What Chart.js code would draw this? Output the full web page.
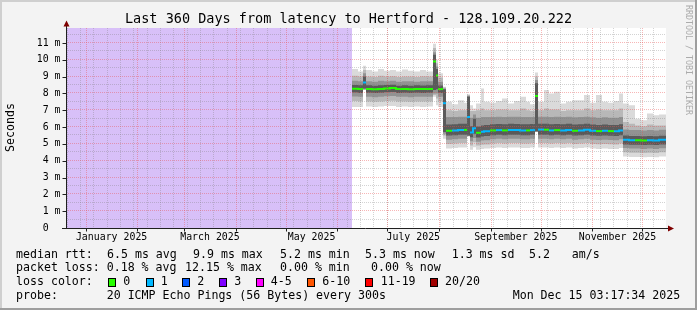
<!DOCTYPE html>
<html><head><meta charset="utf-8">
<script src="https://cdn.jsdelivr.net/npm/chart.js@4.4.1/dist/chart.umd.min.js"></script>
<style>html,body{margin:0;padding:0;background:#f3f3f3;overflow:hidden}canvas{display:block}</style>
</head><body>
<canvas id="c" width="697" height="310"></canvas>
<script>
// ---------- texts ----------
const TITLE = "Last 360 Days from latency to Hertford - 128.109.20.222";
const Y_TITLE = "Seconds";
const WATERMARK = "RRDTOOL / TOBI OETIKER";

// ---------- axes ----------
const SPAN_DAYS = 360;
const Y_MAX = 11.89;
const yTickValues = [0,1,2,3,4,5,6,7,8,9,10,11];
const yTickLabels = ["0  ","1 m","2 m","3 m","4 m","5 m","6 m","7 m","8 m","9 m","10 m","11 m"];
const yMinorValues = [0.5,1.5,2.5,3.5,4.5,5.5,6.5,7.5,8.5,9.5,10.5,11.5];
const monthStartDays = [11.86,42.86,70.86,101.86,131.86,162.86,192.86,223.86,254.86,284.86,315.86,345.86];
const monthLabelDays = [27.36,86.36,147.36,208.36,269.86,330.86];
const monthLabels = ["January 2025","March 2025","May 2025","July 2025","September 2025","November 2025"];
const minorGridDays = [0.4,8.4,16.4,24.4,32.4,40.4,48.4,56.4,64.4,72.4,80.4,88.4,96.4,104.4,112.4,120.4,128.4,136.4,144.4,152.4,160.4,168.4,176.4,184.4,192.4,200.4,208.4,216.4,224.4,232.4,240.4,248.4,256.4,264.4,272.4,280.4,288.4,296.4,304.4,312.4,320.4,328.4,336.4,344.4,352.4];

// ---------- data (x = days since start of the 360-day window) ----------
const unknownDays = [0, 171.6];
const days = [171.6,175.2,178.2,180.0,183.6,187.2,190.8,194.4,198.0,201.6,205.2,208.8,212.4,216.0,220.2,222.0,223.2,226.2,
  228.0,231.6,235.2,238.8,240.6,242.4,244.2,246.0,249.0,250.8,254.4,258.0,261.6,265.2,268.8,272.4,276.0,278.4,281.4,
  283.2,286.8,289.8,292.8,296.4,300.0,303.6,307.2,310.8,314.4,318.0,321.6,325.2,328.8,331.8,
  334.2,337.8,341.4,345.0,348.6,352.2,355.8,360.0];
const median = [8.28,8.26,8.65,8.27,8.25,8.27,8.30,8.32,8.26,8.27,8.25,8.27,8.26,8.27,9.90,9.06,8.26,7.42,
  5.78,5.80,5.83,5.83,6.60,5.68,5.93,5.66,5.72,5.75,5.80,5.82,5.80,5.83,5.82,5.80,5.80,5.82,7.85,
  5.85,5.84,5.80,5.82,5.80,5.83,5.78,5.80,5.84,5.78,5.76,5.78,5.76,5.75,5.80,
  5.25,5.22,5.22,5.20,5.22,5.20,5.24,5.24];
const loss = [0,0,1,0,0,0,0,0,0,0,0,0,0,0,0,0,0,1,
  0,1,1,0,1,1,1,0,1,1,0,1,0,1,1,1,0,1,0,
  1,0,1,0,1,1,0,1,1,1,0,1,0,1,1,
  1,1,0,0,1,1,1,1];
const top1 = [9.45,9.30,9.65,9.40,9.30,9.45,9.35,9.40,9.30,9.42,9.35,9.30,9.40,9.30,10.95,10.00,9.20,8.40,
  7.50,7.35,7.60,7.45,7.95,7.30,7.10,7.40,8.30,7.50,7.45,7.55,7.70,7.40,7.55,7.80,7.50,7.35,9.25,
  7.50,8.20,8.00,8.10,7.40,7.50,7.60,7.60,7.90,7.45,7.90,7.50,7.45,7.55,8.00,
  7.40,7.30,6.50,6.40,6.80,6.70,6.75,6.75];
const top2 = [9.05,9.00,9.40,9.00,8.98,9.05,9.00,9.02,8.98,9.00,9.00,8.98,9.02,9.00,10.70,9.80,8.95,8.35,
  7.00,6.95,7.00,7.00,7.90,6.95,6.95,7.00,7.10,7.00,7.00,7.05,7.05,7.00,7.00,7.10,7.00,6.95,9.00,
  7.00,7.10,7.05,7.05,6.95,7.00,7.00,7.00,7.10,7.00,7.05,7.00,7.00,7.00,7.10,
  6.30,6.20,6.10,6.05,6.15,6.10,6.10,6.10];
const top3 = [8.75,8.72,9.20,8.72,8.70,8.75,8.72,8.75,8.70,8.72,8.72,8.70,8.72,8.72,10.45,9.60,8.70,8.30,
  6.60,6.60,6.62,6.62,7.85,6.55,6.75,6.55,6.60,6.60,6.60,6.62,6.60,6.62,6.62,6.60,6.60,6.60,8.80,
  6.62,6.62,6.60,6.62,6.60,6.62,6.58,6.60,6.62,6.58,6.56,6.58,6.56,6.55,6.60,
  5.85,5.82,5.82,5.80,5.82,5.80,5.84,5.84];
const top4 = [8.50,8.48,9.00,8.48,8.46,8.48,8.50,8.52,8.46,8.48,8.46,8.48,8.47,8.48,10.30,9.45,8.47,8.25,
  6.15,6.17,6.20,6.20,7.80,6.05,6.50,6.03,6.10,6.12,6.17,6.19,6.17,6.20,6.19,6.17,6.17,6.19,8.60,
  6.20,6.20,6.17,6.19,6.17,6.20,6.15,6.17,6.20,6.15,6.13,6.15,6.13,6.12,6.17,
  5.50,5.47,5.47,5.45,5.47,5.45,5.49,5.49];
const bot4 = [8.05,8.03,8.30,8.04,8.02,8.04,8.07,8.09,8.03,8.04,8.02,8.04,8.03,8.04,8.20,8.25,8.03,5.70,
  5.50,5.52,5.55,5.55,5.50,5.40,5.60,5.38,5.44,5.47,5.52,5.54,5.52,5.55,5.54,5.52,5.52,5.54,5.75,
  5.55,5.55,5.52,5.54,5.52,5.55,5.50,5.52,5.55,5.50,5.48,5.50,5.48,5.47,5.52,
  4.97,4.95,4.95,4.93,4.95,4.93,4.97,4.97];
const bot3 = [7.82,7.80,8.25,7.80,7.78,7.80,7.83,7.85,7.80,7.80,7.78,7.80,7.80,7.80,8.00,8.00,7.80,5.60,
  5.25,5.27,5.30,5.30,5.47,5.15,5.35,5.13,5.20,5.22,5.27,5.30,5.27,5.30,5.30,5.27,5.27,5.30,5.72,
  5.30,5.30,5.27,5.30,5.27,5.30,5.25,5.27,5.30,5.25,5.23,5.25,5.23,5.22,5.27,
  4.75,4.72,4.72,4.70,4.72,4.70,4.74,4.74];
const bot2 = [7.55,7.52,8.20,7.52,7.50,7.52,7.55,7.57,7.52,7.52,7.50,7.52,7.52,7.52,7.90,7.70,7.52,5.50,
  5.00,5.02,5.05,5.05,5.45,4.90,5.10,4.90,4.95,4.97,5.02,5.05,5.02,5.05,5.05,5.02,5.02,5.05,5.70,
  5.05,5.05,5.02,5.05,5.02,5.05,5.00,5.02,5.05,5.00,4.98,5.00,4.98,4.97,5.02,
  4.50,4.48,4.48,4.46,4.48,4.46,4.50,4.50];
const bot1 = [7.20,7.20,8.20,7.22,7.20,7.22,7.25,7.26,7.20,7.22,7.20,7.22,7.20,7.22,7.80,7.30,7.20,5.30,
  4.72,4.75,4.78,4.78,5.45,4.65,4.80,4.65,4.70,4.72,4.75,4.78,4.75,4.78,4.78,4.75,4.75,4.78,5.70,
  4.78,4.78,4.75,4.78,4.75,4.78,4.72,4.75,4.78,4.72,4.70,4.72,4.70,4.70,4.75,
  4.25,4.22,4.22,4.20,4.22,4.20,4.25,4.25];

// ---------- legend ----------
const lossLabels = ["0","1","2","3","4-5","6-10","11-19","20/20"];
const lossColors = ["#26ff00","#00b8ff","#0059ff","#7e00ff","#ff00ff","#ff5500","#ff0000","#a10000"];
const lossUpper = [0,1,2,3,5,10,19,20];
const rttRow = ["median rtt:","6.5 ms avg","9.9 ms max","5.2 ms min","5.3 ms now","1.3 ms sd","5.2","am/s"];
const lossRow = ["packet loss:","0.18 % avg","12.15 % max","0.00 % min","0.00 % now"];
const colorRowTitle = "loss color:";
const probeRow = ["probe:","20 ICMP Echo Pings (56 Bytes) every 300s","Mon Dec 15 03:17:34 2025"];

// ---------- layout / style (kept apart from data) ----------
const rttRowX = [16,107,193,280,365,451.7,529,571.7];
const lossRowX = [16,106.7,185,280,371];
const probeRowX = [16,106.7,512.7];
const boxX = [108,146,182,219,256,307,365,430];
const boxLabelX = [123.3,160.7,197.3,234.3,270.7,322.3,380.7,445];
const rowY = [254.7,268.4,282.3,296];
const FONT = '"DejaVu Sans Mono", "Liberation Mono", monospace';
const smokeColors = ["#dadada","#b8b8b8","#929292","#5a5a5a"];
const PURPLE = "#d8c0f8";

function bucket(n){ for (let i=0;i<lossUpper.length;i++) if (n<=lossUpper[i]) return i; return lossUpper.length-1; }

const pts = arr => days.map((d,i)=>({x:d,y:arr[i]}));
const tops = [top1,top2,top3,top4];
const bots = [bot1,bot2,bot3,bot4];
const datasets = [];
datasets.push({
  label:'unknown', data: unknownDays.map(d=>({x:d,y:Y_MAX})), fill:'origin',
  backgroundColor: PURPLE, borderWidth:0, borderColor:'rgba(0,0,0,0)', pointRadius:0, order:50
});
for (let k=0;k<4;k++){
  datasets.push({label:'smoke'+k+'u', data:pts(tops[k]), stepped:true, fill:'+1', backgroundColor:smokeColors[k],
    borderWidth:0, borderColor:'rgba(0,0,0,0)', pointRadius:0, order:40-10*k});
  datasets.push({label:'smoke'+k+'l', data:pts(bots[k]), stepped:true, fill:false,
    borderWidth:0, borderColor:'rgba(0,0,0,0)', pointRadius:0, order:40-10*k});
}
const medianPts = [];
for (let i=0;i<days.length-1;i++){ medianPts.push({x:days[i],y:median[i]},{x:days[i+1],y:median[i]}); }
datasets.push({
  label:'median', data: medianPts, fill:false, borderWidth:2, pointRadius:0, order:0, borderColor:lossColors[0],
  segment:{ borderColor: c => {
    const i0 = Math.floor(c.p0DataIndex/2);
    if (c.p0DataIndex % 2 === 0) return lossColors[bucket(loss[i0])];
    const a = loss[i0], b = loss[i0+1];
    if (b !== undefined && bucket(a)===bucket(b) && Math.abs(median[i0]-median[i0+1])<0.4) return lossColors[bucket(a)];
    return 'rgba(0,0,0,0)';
  }}
});

const rrdPlugin = {
  id:'rrd',
  beforeDraw(chart){
    const ctx = chart.ctx, a = chart.chartArea, W = chart.width, H = chart.height;
    ctx.save();
    ctx.fillStyle = '#f3f3f3'; ctx.fillRect(0,0,W,H);
    ctx.fillStyle = '#cfcfcf'; ctx.fillRect(0,0,W,2); ctx.fillRect(0,0,2,H);
    ctx.fillStyle = '#9e9e9e'; ctx.fillRect(0,H-2,W,2); ctx.fillRect(W-2,0,2,H);
    ctx.fillStyle = '#ffffff'; ctx.fillRect(a.left,a.top,a.right-a.left,a.bottom-a.top);
    ctx.restore();
  },
  afterDatasetsDraw(chart){
    const ctx = chart.ctx, a = chart.chartArea, xs = chart.scales.x, ys = chart.scales.y;
    const X = v => Math.round(xs.getPixelForValue(v))+0.5;
    const Y = v => Math.round(ys.getPixelForValue(v))-0.5;
    // grid (on top of data, like rrdtool)
    ctx.save();
    ctx.beginPath(); ctx.rect(a.left+1,a.top,a.right-a.left-1,a.bottom-a.top); ctx.clip();
    ctx.lineWidth = 1; ctx.setLineDash([1,1]);
    ctx.strokeStyle = 'rgba(120,120,120,0.33)';
    ctx.beginPath();
    yMinorValues.forEach(v=>{ const y=Y(v); ctx.moveTo(a.left,y); ctx.lineTo(a.right,y); });
    minorGridDays.forEach(d=>{ const x=X(d); ctx.moveTo(x,a.top); ctx.lineTo(x,a.bottom); });
    ctx.stroke();
    ctx.strokeStyle = 'rgba(235,80,80,0.42)';
    ctx.beginPath();
    yTickValues.slice(1).forEach(v=>{ const y=Y(v); ctx.moveTo(a.left,y); ctx.lineTo(a.right,y); });
    monthStartDays.forEach(d=>{ const x=X(d); ctx.moveTo(x,a.top); ctx.lineTo(x,a.bottom); });
    ctx.stroke();
    ctx.restore();

    // axes
    ctx.save();
    const x0 = Math.round(xs.getPixelForValue(0))+0.5;
    const y0 = Math.round(ys.getPixelForValue(0))+0.5;
    ctx.strokeStyle = '#202020'; ctx.lineWidth = 1;
    ctx.beginPath();
    ctx.moveTo(x0, y0); ctx.lineTo(x0, 25);
    ctx.moveTo(62, y0); ctx.lineTo(669, y0);
    yTickValues.forEach(v=>{ const y=Math.round(ys.getPixelForValue(v))+0.5; ctx.moveTo(62.5,y); ctx.lineTo(x0,y); });
    monthStartDays.forEach(d=>{ const x=X(d); ctx.moveTo(x,y0); ctx.lineTo(x,y0+3); });
    ctx.stroke();
    ctx.fillStyle = '#7f0000';
    ctx.beginPath(); ctx.moveTo(x0,20.5); ctx.lineTo(x0-3,26.5); ctx.lineTo(x0+3,26.5); ctx.closePath(); ctx.fill();
    ctx.beginPath(); ctx.moveTo(674,y0); ctx.lineTo(668,y0-3); ctx.lineTo(668,y0+3); ctx.closePath(); ctx.fill();
    ctx.restore();

    // texts
    ctx.save();
    ctx.fillStyle = '#000';
    ctx.textBaseline = 'middle';
    ctx.font = '13.5px ' + FONT; ctx.textAlign = 'center';
    ctx.fillText(TITLE, 348.5, 19);
    ctx.font = '9.9px ' + FONT; ctx.textAlign = 'right';
    yTickValues.forEach((v,i)=>{ ctx.fillText(yTickLabels[i], 60.5, ys.getPixelForValue(v)); });
    ctx.textAlign = 'center';
    monthLabelDays.forEach((d,i)=>{ ctx.fillText(monthLabels[i], xs.getPixelForValue(d), 237.7); });
    ctx.font = '11.6px ' + FONT;
    ctx.save(); ctx.translate(10.5,127.5); ctx.rotate(-Math.PI/2); ctx.textAlign='center'; ctx.fillText(Y_TITLE,0,0); ctx.restore();
    ctx.save(); ctx.translate(688,5); ctx.rotate(Math.PI/2); ctx.textAlign='left'; ctx.font='8.3px '+FONT; ctx.fillStyle='#ababab'; ctx.fillText(WATERMARK,0,0); ctx.restore();
    ctx.textAlign = 'left';
    rttRow.forEach((t,i)=>ctx.fillText(t, rttRowX[i], rowY[0]));
    lossRow.forEach((t,i)=>ctx.fillText(t, lossRowX[i], rowY[1]));
    ctx.fillText(colorRowTitle, 16, rowY[2]);
    lossLabels.forEach((t,i)=>{
      ctx.fillStyle = lossColors[i]; ctx.fillRect(boxX[i], 278, 8, 9);
      ctx.strokeStyle = '#000'; ctx.lineWidth = 1; ctx.strokeRect(boxX[i]+0.5, 278.5, 7, 8);
      ctx.fillStyle = '#000'; ctx.fillText(t, boxLabelX[i], rowY[2]);
    });
    probeRow.forEach((t,i)=>ctx.fillText(t, probeRowX[i], rowY[3]));
    ctx.restore();
  }
};

new Chart(document.getElementById('c').getContext('2d'), {
  type:'line',
  data:{datasets},
  options:{
    responsive:false, animation:false, devicePixelRatio:1,
    layout:{padding:{left:66,right:31,top:28,bottom:82}},
    plugins:{legend:{display:false}, tooltip:{enabled:false}, filler:{propagate:false}},
    scales:{
      x:{type:'linear', min:0, max:SPAN_DAYS, display:false},
      y:{type:'linear', min:0, max:Y_MAX, display:false}
    },
    elements:{point:{radius:0}, line:{tension:0}}
  },
  plugins:[rrdPlugin]
});
</script>
</body></html>
